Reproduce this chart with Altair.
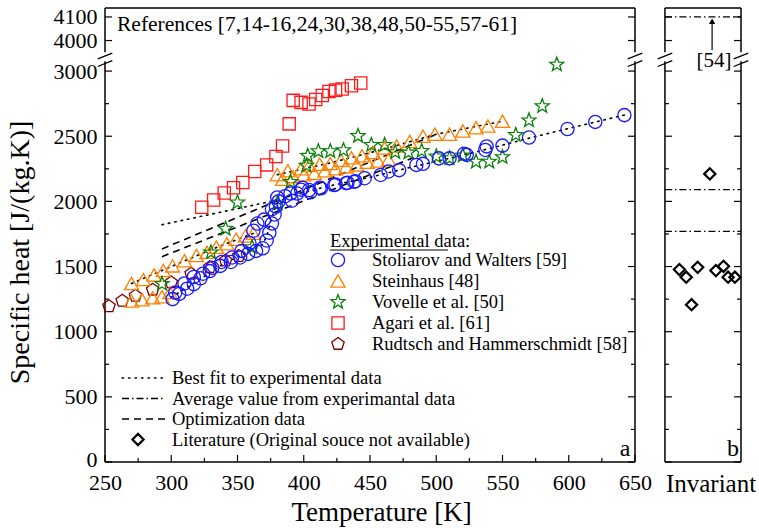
import math
import altair as alt
import pandas as pd

FONT = "Liberation Serif"
W, H = 636, 454

# ---------------- data ----------------
# Stoliarov and Walters [59]
sw_T = [301, 306, 312, 317, 322, 329, 337, 345, 352, 358, 364, 369, 372, 374, 376, 378, 379, 381, 386, 391,
        395, 399, 404, 412, 424, 432, 439, 446, 458, 464, 472, 485, 490, 502, 510, 521, 537, 550, 570, 599,
        620, 642,
        303, 310, 317, 324, 331, 338, 346, 353, 359, 362, 365, 370, 376, 380, 390, 398, 405, 413, 423, 433,
        438, 523, 538]
sw_cp = [1250, 1290, 1330, 1365, 1410, 1465, 1505, 1535, 1570, 1597, 1620, 1640, 1700, 1760, 1830, 1900, 1960, 2000, 2040, 2005,
         2060, 2105, 2087, 2105, 2130, 2140, 2155, 2178, 2203, 2230, 2240, 2280, 2288, 2330, 2330, 2365, 2395, 2428, 2490, 2555,
         2610, 2662,
         1300, 1370, 1420, 1445, 1490, 1535, 1570, 1620, 1680, 1775, 1830, 1860, 1940, 2030, 2060, 2090, 2070, 2100, 2125, 2143,
         2150, 2357, 2422]

# Steinhaus [48]
st_T = [270, 279, 287, 294, 301, 310, 319, 327, 334, 342, 349, 356, 362, 380, 388, 398, 404, 412, 420, 428,
        436, 444, 452, 461, 470, 480, 490, 499, 510, 520, 530, 539, 550,
        270, 278, 286, 293, 299, 384, 392, 400, 408, 416, 424, 432, 440, 448, 456, 464]
st_cp = [1370, 1400, 1435, 1470, 1505, 1545, 1585, 1610, 1648, 1675, 1710, 1735, 1755, 2205, 2235, 2250, 2275, 2285, 2290, 2315,
         2335, 2350, 2375, 2410, 2425, 2460, 2500, 2515, 2515, 2540, 2565, 2578, 2615,
         1235, 1245, 1260, 1268, 1300, 2170, 2190, 2205, 2215, 2235, 2250, 2265, 2280, 2300, 2310, 2320]

# Vovelle et al. [50]
vo_T = [293, 330, 341, 350, 361, 380, 390, 402, 403, 411, 420, 430, 441, 451, 461, 469, 479, 489, 500, 510,
        520, 530, 540, 550, 560, 570, 580, 591]
vo_cp = [1367, 1609, 1790, 1992, 1648, 1982, 2150, 2275, 2350, 2385, 2385, 2393, 2502, 2433, 2433, 2378, 2375, 2387, 2345, 2331,
         2352, 2305, 2305, 2340, 2510, 2622, 2731, 3050]

# Agari et al. [61]
ag_T = [323, 332, 340, 347, 354, 363, 372, 379, 384, 389, 392, 398, 404, 409, 414, 419, 424, 429, 436, 443]
ag_cp = [1955, 2010, 2065, 2105, 2145, 2230, 2280, 2345, 2425, 2595, 2775, 2760, 2748, 2782, 2813, 2843, 2854, 2862, 2887, 2908]

# Rudtsch and Hammerschmidt [58]
ru_T = [253, 263, 273, 286, 300, 315, 329, 341, 351]
ru_cp = [1195, 1237, 1275, 1322, 1378, 1444, 1494, 1545, 1580]

# Best fit to experimental data (dotted)
fit_seg = [0, 0,
           1, 1, 1, 1, 1, 1, 1, 1, 1, 1, 1, 1, 1, 1, 1, 1, 1,
           2, 2, 2, 2,
           3, 3, 3, 3, 3]
fit_T = [293, 380,
         300, 320, 340, 360, 368, 372, 376, 380, 390, 420, 450, 480, 510, 540, 570, 600, 645,
         270, 300, 330, 362,
         380, 420, 460, 500, 550]
fit_cp = [1821, 2010,
          1265, 1390, 1525, 1620, 1660, 1730, 1880, 1990, 2045, 2120, 2185, 2260, 2330, 2405, 2485, 2560, 2670,
          1370, 1500, 1630, 1755,
          2205, 2295, 2400, 2515, 2615]

# Optimization data (dashed)
opt_seg = [0, 0, 1, 1]
opt_T = [293, 500, 293, 483]
opt_cp = [1635, 2515, 1576, 2336]

# Panel b: invariant literature values and averages
lit_cp = [1477, 1418, 1207, 1494, 2211, 1469, 1502, 1418, 1418]
lit_slot = [0.19, 0.28, 0.35, 0.43, 0.59, 0.67, 0.77, 0.83, 0.92]
avg_cp = [4100, 2090, 1770]

x_ticks = [250, 300, 350, 400, 450, 500, 550, 600, 650]
x_minor = [275, 325, 375, 425, 475, 525, 575, 625]
y_ticks = [0, 500, 1000, 1500, 2000, 2500, 3000, 4000, 4100]
y_minor = [250, 750, 1250, 1750, 2250, 2750]

# ---------------- scales / geometry ----------------
XA0, XA1 = 250, 650          # panel a
XB0, XB1 = 672.6, 730        # panel b (same horizontal scale, off to the right)
YTOP = 4138
xs = alt.Scale(domain=[250, 730], nice=False, zero=False)
ys = alt.Scale(domain=[0, 3095, 3931, YTOP], range=[H, 50.7, 48.8, 0], nice=False, zero=False)

LOW_END, UP_START = 3075, 3950


def star_path(r_in=0.42):
    pts = []
    for i in range(10):
        r = 1.0 if i % 2 == 0 else r_in
        a = -math.pi / 2 + i * math.pi / 5
        pts.append((r * math.cos(a), r * math.sin(a)))
    return "M" + " L".join(f"{x:.3f},{y:.3f}" for x, y in pts) + " Z"


def poly_path(n=5):
    pts = []
    for i in range(n):
        a = -math.pi / 2 + i * 2 * math.pi / n
        pts.append((math.cos(a), math.sin(a)))
    return "M" + " L".join(f"{x:.3f},{y:.3f}" for x, y in pts) + " Z"


STAR = star_path()
PENT = poly_path()

C_BLUE, C_ORANGE, C_GREEN, C_RED, C_MAROON = "#1a1aff", "#ff8000", "#0a800a", "#ff1a1a", "#800000"

x_axis = alt.Axis(values=x_ticks, format="d", tickSize=0, domain=False, grid=False,
                  labelFont=FONT, labelFontSize=22, labelColor="black", labelPadding=10,
                  labelFlush=False, labelOverlap=False,
                  title="Temperature [K]", titleFont=FONT, titleFontSize=27, titleFontWeight="normal",
                  titleColor="black", titleX=276, titleY=58.5, titleBaseline="alphabetic")
y_axis = alt.Axis(values=y_ticks, format="d", tickSize=0, domain=False, grid=False,
                  labelFont=FONT, labelFontSize=22, labelColor="black", labelPadding=8,
                  labelFlush=False, labelOverlap=False,
                  labelOffset={"condition": {"test": "datum.value == 0", "value": -3}, "value": 0},
                  title="Specific heat [J/(kg.K)]", titleFont=FONT, titleFontSize=28, titleFontWeight="normal",
                  titleColor="black", titleX=-77, titleY=244, titleBaseline="alphabetic")


def X(field):
    return alt.X(field, scale=xs, axis=x_axis)


def Y(field):
    return alt.Y(field, scale=ys, axis=y_axis)


layers = []

# ---- frames ----
fr_x, fr_x2, fr_y, fr_y2 = [], [], [], []
for xv in (XA0, XA1, XB0, XB1):
    fr_x += [xv, xv]
    fr_x2 += [xv, xv]
    fr_y += [0, UP_START]
    fr_y2 += [LOW_END, YTOP]
for a0, a1 in ((XA0, XA1), (XB0, XB1)):
    for yv in (0, YTOP):
        fr_x.append(a0); fr_x2.append(a1); fr_y.append(yv); fr_y2.append(yv)
frames = pd.DataFrame({"x": fr_x, "x2": fr_x2, "y": fr_y, "y2": fr_y2})
layers.append(alt.Chart(frames).mark_rule(color="black", strokeWidth=1.5).encode(
    x=X("x:Q"), x2="x2:Q", y=Y("y:Q"), y2="y2:Q"))

# ---- axis break slashes ----
bx, bx2, by, by2 = [], [], [], []
for xv in (XA0, XA1, XB0, XB1):
    for (ya, yb) in ((3035, 3081), (3093, 3947)):
        bx.append(xv - 5.5); bx2.append(xv + 5.5); by.append(ya); by2.append(yb)
breaks = pd.DataFrame({"x": bx, "x2": bx2, "y": by, "y2": by2})
layers.append(alt.Chart(breaks).mark_rule(color="black", strokeWidth=1.3).encode(
    x=X("x:Q"), x2="x2:Q", y=Y("y:Q"), y2="y2:Q"))


# ---- inward ticks ----
def yticks(values, xpos, length):
    df = pd.DataFrame({"y": values, "x": [xpos] * len(values)})
    return alt.Chart(df).mark_rule(color="black", strokeWidth=1.2, x2Offset=length).encode(
        x=X("x:Q"), x2="x:Q", y=Y("y:Q"))


for xv, sgn in ((XA0, 1), (XA1, -1), (XB0, 1), (XB1, -1)):
    layers.append(yticks(y_ticks, xv, 7 * sgn))
    layers.append(yticks(y_minor, xv, 4 * sgn))


def xticks(values, length):
    df = pd.DataFrame({"x": values, "y": [0] * len(values)})
    return alt.Chart(df).mark_rule(color="black", strokeWidth=1.2, y2Offset=-length).encode(
        x=X("x:Q"), y=Y("y:Q"), y2="y:Q")


layers.append(xticks(x_ticks, 7))
layers.append(xticks(x_minor, 4))

# ---- fit / optimization lines ----
fit_df = pd.DataFrame({"x": fit_T, "y": fit_cp, "seg": fit_seg})
layers.append(alt.Chart(fit_df).mark_line(color="black", strokeWidth=1.6, strokeDash=[1.5, 5],
                                          strokeCap="round").encode(
    x=X("x:Q"), y=Y("y:Q"), detail="seg:N", order="x:Q"))
opt_df = pd.DataFrame({"x": opt_T, "y": opt_cp, "seg": opt_seg})
layers.append(alt.Chart(opt_df).mark_line(color="black", strokeWidth=1.6, strokeDash=[7, 5]).encode(
    x=X("x:Q"), y=Y("y:Q"), detail="seg:N"))


# ---- experimental series ----
def series(T, cp, shape, color, size):
    df = pd.DataFrame({"x": T, "y": cp})
    return alt.Chart(df).mark_point(shape=shape, filled=False, color=color, size=size,
                                    strokeWidth=1.3, opacity=1).encode(x=X("x:Q"), y=Y("y:Q"))


SIZES = {"ru": 170, "st": 200, "ag": 150, "vo": 220, "sw": 175}
layers.append(series(ru_T, ru_cp, PENT, C_MAROON, SIZES["ru"]))
layers.append(series(st_T, st_cp, "triangle-up", C_ORANGE, SIZES["st"]))
layers.append(series(ag_T, ag_cp, "square", C_RED, SIZES["ag"]))
layers.append(series(vo_T, vo_cp, STAR, C_GREEN, SIZES["vo"]))
layers.append(series(sw_T, sw_cp, "circle", C_BLUE, SIZES["sw"]))

# ---- panel b ----
avg_df = pd.DataFrame({"y": avg_cp, "x": [XB0] * len(avg_cp), "x2": [XB1] * len(avg_cp)})
layers.append(alt.Chart(avg_df).mark_rule(color="black", strokeWidth=1.3, strokeDash=[7, 3, 1.5, 3]).encode(
    x=X("x:Q"), x2="x2:Q", y=Y("y:Q")))

lit_df = pd.DataFrame({"y": lit_cp, "slot": lit_slot})
layers.append(alt.Chart(lit_df).transform_calculate(
    x=f"{XB0} + datum.slot * {XB1 - XB0}").mark_point(
    shape="diamond", filled=False, color="black", size=125, strokeWidth=2.2, opacity=1).encode(
    x=X("x:Q"), y=Y("y:Q")))

# arrow to [54]
arrow_x = XB0 + 0.62 * (XB1 - XB0)
arr_df = pd.DataFrame({"x": [arrow_x], "y": [3960], "y2": [4082]})
layers.append(alt.Chart(arr_df).mark_rule(color="black", strokeWidth=1.2).encode(
    x=X("x:Q"), y=Y("y:Q"), y2="y2:Q"))
layers.append(alt.Chart(arr_df).mark_point(shape="triangle-up", filled=True, color="black", size=40,
                                           opacity=1).encode(x=X("x:Q"), y=Y("y2:Q")))


# ---- annotations ----
def label(text, x, y, size, align="left", baseline="middle"):
    return alt.Chart(pd.DataFrame({"t": [text]})).mark_text(
        font=FONT, fontSize=size, color="black", align=align, baseline=baseline).encode(
        x=alt.value(x), y=alt.value(y), text="t:N")


layers.append(label("References [7,14-16,24,30,38,48,50-55,57-61]", 12, 17, 21.5))
layers.append(label("a", 520, 441, 24, align="center"))
layers.append(label("b", 628, 441, 24, align="center"))
layers.append(label("[54]", 609, 53, 21, align="center"))
layers.append(label("Invariant", 606, H + 10, 25, align="center", baseline="top"))

# experimental-data legend
exp_names = ["Stoliarov and Walters [59]", "Steinhaus [48]", "Vovelle et al. [50]",
             "Agari et al. [61]", "Rudtsch and Hammerschmidt [58]"]
exp_shapes = ["circle", "triangle-up", STAR, "square", PENT]
exp_colors = [C_BLUE, C_ORANGE, C_GREEN, C_RED, C_MAROON]
exp_sizes = [SIZES["sw"], SIZES["st"], SIZES["vo"], SIZES["ag"], SIZES["ru"]]
layers.append(label("Experimental data:", 225, 233, 18.5))
layers.append(alt.Chart(pd.DataFrame({"a": [0]})).mark_rule(color="black", strokeWidth=1).encode(
    x=alt.value(225), x2=alt.value(343), y=alt.value(242)))
for i, (nm, shp, col, sz) in enumerate(zip(exp_names, exp_shapes, exp_colors, exp_sizes)):
    yy = 252 + i * 21
    layers.append(alt.Chart(pd.DataFrame({"a": [0]})).mark_point(
        shape=shp, filled=False, color=col, size=sz, strokeWidth=1.3, opacity=1).encode(
        x=alt.value(233), y=alt.value(yy)))
    layers.append(label(nm, 267, yy, 18.5))

# line-style legend
line_names = ["Best fit to experimental data", "Average value from experimantal data",
              "Optimization data", "Literature (Original souce not available)"]
dashes = [[1.5, 5], [7, 3, 1.5, 3], [7, 5]]
for i, nm in enumerate(line_names):
    yy = 370 + i * 20.5
    if i < 3:
        layers.append(alt.Chart(pd.DataFrame({"a": [0]})).mark_rule(
            color="black", strokeWidth=1.4, strokeDash=dashes[i],
            strokeCap="round" if i == 0 else "butt").encode(
            x=alt.value(17), x2=alt.value(60), y=alt.value(yy)))
    else:
        layers.append(alt.Chart(pd.DataFrame({"a": [0]})).mark_point(
            shape="diamond", filled=False, color="black", size=125, strokeWidth=2.2, opacity=1).encode(
            x=alt.value(33), y=alt.value(yy)))
    layers.append(label(nm, 67, yy, 18.5))

chart = alt.layer(*layers).properties(
    width=W, height=H,
    autosize=alt.AutoSizeParams(type="none"),
    padding={"left": 105, "top": 8, "right": 18, "bottom": 66},
).configure_view(stroke=None)

chart.save("out.html", embed_options={"renderer": "svg", "actions": False})
